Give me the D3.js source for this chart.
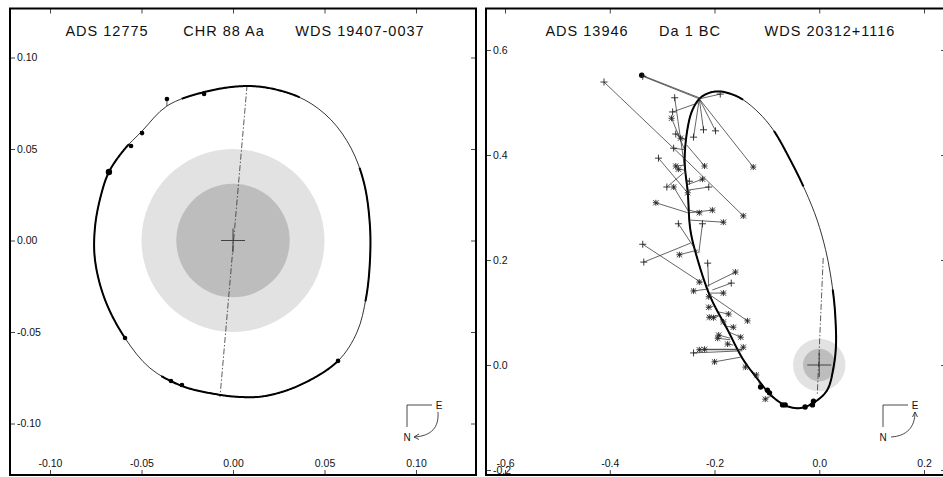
<!DOCTYPE html>
<html><head><meta charset="utf-8">
<script src="https://cdn.jsdelivr.net/npm/d3@7"></script>
<style>
body{margin:0;background:#fff}
svg{display:block}
text{font-family:"Liberation Sans",Arial,Helvetica,sans-serif;fill:#111}
</style>
</head><body>
<svg id="c" width="943" height="477"></svg>
<script>
// ================= Panel A : ADS 12775 =================
const titleA = ["ADS 12775", "CHR 88 Aa", "WDS 19407-0037"];
const ticksA = [-0.10, -0.05, 0.00, 0.05, 0.10];
const tickLabelsA = ["-0.10", "-0.05", "0.00", "0.05", "0.10"];
const orbitAX = [0.0066, 0.0230, 0.0393, 0.0535, 0.0645, 0.0716, 0.0748, 0.0748, 0.0727, 0.0678, 0.0574, 0.0366, 0.0175, 0.0038, -0.0098, -0.0279, -0.0454, -0.0590, -0.0699, -0.0754, -0.0754, -0.0721, -0.0678, -0.0596, -0.0497, -0.0361, -0.0158];
const orbitAY = [0.0844, 0.0826, 0.0768, 0.0660, 0.0505, 0.0314, 0.0085, -0.0117, -0.0314, -0.0500, -0.0658, -0.0790, -0.0850, -0.0855, -0.0839, -0.0795, -0.0697, -0.0533, -0.0325, -0.0107, 0.0074, 0.0249, 0.0374, 0.0495, 0.0598, 0.0735, 0.0811];
const obsAX  = [-0.0361, -0.0158, -0.0497, -0.0557, -0.0678, -0.0590, -0.0339, -0.0279, 0.0574];
const obsAY  = [0.0773, 0.0801, 0.0587, 0.0516, 0.0374, -0.0533, -0.0768, -0.0790, -0.0658];
const calcAX = [-0.0361, -0.0153, -0.0508, -0.0580, -0.0678, -0.0590, -0.0344, -0.0279, 0.0574];
const calcAY = [0.0735, 0.0811, 0.0598, 0.0520, 0.0374, -0.0533, -0.0760, -0.0790, -0.0658];
const obsAType = ["dot", "dot", "dot", "dot", "big", "dot", "dot", "dot", "dot"];
const nodeAX = [0.0077, -0.0071];
const nodeAY = [0.0850, -0.0855];
const haloA = [0.05, 0.031];

// ================= Panel B : ADS 13946 =================
const titleB = ["ADS 13946", "Da 1 BC", "WDS 20312+1116"];
const ticksB = [-0.6, -0.4, -0.2, 0.0, 0.2];
const tickLabelsB = ["-0.6", "-0.4", "-0.2", "0.0", "0.2"];
const yTicksB = [-0.2, 0.0, 0.2, 0.4, 0.6];
const yTickLabelsB = ["-0.2", "0.0", "0.2", "0.4", "0.6"];
const orbitBX = [-0.242, -0.227, -0.208, -0.189, -0.165, -0.145, -0.115, -0.088, -0.055, -0.027, -0.004, 0.012, 0.021, 0.028, 0.031, 0.032, 0.028, 0.015, -0.011, -0.036, -0.060, -0.074, -0.095, -0.112, -0.145, -0.175, -0.208, -0.232, -0.246, -0.251, -0.257, -0.251];
const orbitBY = [0.486, 0.509, 0.519, 0.521, 0.515, 0.505, 0.480, 0.448, 0.390, 0.333, 0.276, 0.220, 0.175, 0.125, 0.086, 0.040, 0.000, -0.048, -0.072, -0.082, -0.079, -0.072, -0.055, -0.034, 0.010, 0.067, 0.130, 0.200, 0.257, 0.328, 0.390, 0.453];
const obsBType = ["plus","dot","plus","plus","plus","plus","star","plus","plus","star","plus","plus","star","plus","plus","star","star","star","plus","star","plus","star","plus","star","star","star","star","star","plus","plus","plus","plus","star","plus","star","plus","star","star","star","star","star","star","star","star","star","star","star","star","star","star","star","star","plus","star","star","star","star","star","dot","dot","dot","star","dot","dot","dot","dot","dot","star"];
const obsBX  = [-0.411, -0.339, -0.337, -0.189, -0.276, -0.280, -0.282, -0.221, -0.198, -0.126, -0.240, -0.274, -0.265, -0.278, -0.307, -0.274, -0.269, -0.219, -0.248, -0.223, -0.291, -0.278, -0.211, -0.251, -0.312, -0.204, -0.183, -0.229, -0.269, -0.223, -0.337, -0.335, -0.267, -0.213, -0.160, -0.168, -0.229, -0.240, -0.183, -0.211, -0.137, -0.211, -0.210, -0.202, -0.183, -0.173, -0.164, -0.150, -0.192, -0.194, -0.175, -0.145, -0.240, -0.229, -0.219, -0.200, -0.141, -0.120, -0.112, -0.099, -0.095, -0.103, -0.070, -0.065, -0.027, -0.013, -0.011, -0.145];
const obsBY  = [0.539, 0.552, 0.550, 0.516, 0.509, 0.482, 0.470, 0.448, 0.446, 0.377, 0.434, 0.440, 0.432, 0.413, 0.394, 0.379, 0.373, 0.379, 0.350, 0.354, 0.339, 0.339, 0.339, 0.328, 0.309, 0.295, 0.272, 0.290, 0.269, 0.269, 0.230, 0.196, 0.210, 0.194, 0.177, 0.156, 0.158, 0.141, 0.137, 0.130, 0.084, 0.110, 0.091, 0.090, 0.082, 0.097, 0.072, 0.053, 0.057, 0.051, 0.040, 0.034, 0.023, 0.029, 0.030, 0.006, -0.004, -0.019, -0.042, -0.048, -0.053, -0.065, -0.076, -0.076, -0.080, -0.076, -0.069, 0.284];
const calcBX = [-0.253, -0.229, -0.229, -0.229, -0.255, -0.232, -0.257, -0.229, -0.229, -0.229, -0.229, -0.255, -0.253, -0.257, -0.253, -0.255, -0.255, -0.253, -0.255, -0.253, -0.259, -0.248, -0.251, -0.253, -0.251, -0.248, -0.246, -0.248, -0.232, -0.230, -0.227, -0.246, -0.232, -0.211, -0.217, -0.204, -0.223, -0.211, -0.211, -0.208, -0.208, -0.202, -0.192, -0.192, -0.189, -0.192, -0.181, -0.173, -0.170, -0.170, -0.164, -0.147, -0.147, -0.147, -0.147, -0.150, -0.139, -0.126, -0.116, -0.105, -0.101, -0.088, -0.074, -0.065, -0.027, -0.013, -0.010, -0.253];
const calcBY = [0.389, 0.509, 0.507, 0.507, 0.362, 0.499, 0.410, 0.507, 0.507, 0.507, 0.507, 0.429, 0.429, 0.410, 0.330, 0.381, 0.371, 0.419, 0.352, 0.343, 0.366, 0.290, 0.333, 0.324, 0.290, 0.290, 0.276, 0.295, 0.213, 0.213, 0.158, 0.232, 0.219, 0.149, 0.149, 0.143, 0.158, 0.145, 0.137, 0.130, 0.133, 0.112, 0.095, 0.093, 0.086, 0.101, 0.074, 0.063, 0.051, 0.048, 0.038, 0.030, 0.027, 0.029, 0.030, 0.015, 0.002, -0.015, -0.030, -0.044, -0.048, -0.057, -0.072, -0.076, -0.082, -0.074, -0.070, 0.389];
const nodeBX = [0.0076, -0.0038];
const nodeBY = [0.204, -0.057];
const haloB = [0.05, 0.031];

// ================= drawing =================
const svg = d3.select("#c");

function drawPanel(p) {
  const g = svg.append("g");
  const x = d3.scaleLinear().domain(p.xDomain).range(p.xRange);
  const y = d3.scaleLinear().domain(p.yDomain).range(p.yRange);
  const rpx = v => Math.abs(x(v) - x(0));

  g.append("clipPath").attr("id", p.id + "clip").append("rect")
    .attr("x", p.frame[0]).attr("y", p.frame[1])
    .attr("width", p.frame[2] - p.frame[0]).attr("height", p.frame[3] - p.frame[1]);
  const inner = g.append("g").attr("clip-path", `url(#${p.id}clip)`);

  inner.append("circle").attr("cx", x(0)).attr("cy", y(0)).attr("r", rpx(p.halo[0])).attr("fill", "#e2e2e2");
  inner.append("circle").attr("cx", x(0)).attr("cy", y(0)).attr("r", rpx(p.halo[1])).attr("fill", "#bdbdbd");
  inner.append("path")
    .attr("d", `M${x(0) - 12},${y(0)}H${x(0) + 12}M${x(0)},${y(0) - 12}V${y(0) + 12}`)
    .attr("stroke", "#333").attr("stroke-width", 0.9);

  inner.append("line")
    .attr("x1", x(p.nodeX[0])).attr("y1", y(p.nodeY[0]))
    .attr("x2", x(p.nodeX[1])).attr("y2", y(p.nodeY[1]))
    .attr("stroke", "#333").attr("stroke-width", 0.8)
    .attr("stroke-dasharray", "6,2,1.5,2");

  const pts = p.orbitX.map((v, i) => [x(v), y(p.orbitY[i])]);
  const line = d3.line().curve(d3.curveCatmullRomClosed.alpha(0.5));
  const orbit = inner.append("path").attr("d", line(pts))
    .attr("fill", "none").attr("stroke", "#000").attr("stroke-width", 0.8);
  const node = orbit.node();
  const L = node.getTotalLength();
  const cx0 = x(0), cy0 = y(0);
  const segs = []; let seg = [];
  const N = 800;
  for (let k = 0; k <= N; k++) {
    const q = node.getPointAtLength(L * k / N);
    let a = Math.atan2(cy0 - q.y, q.x - cx0) * 180 / Math.PI;
    if (a < 0) a += 360;
    const inR = p.thick.some(([a0, a1]) => a0 <= a1 ? (a >= a0 && a <= a1) : (a >= a0 || a <= a1));
    if (inR) seg.push([q.x, q.y]);
    else if (seg.length) { segs.push(seg); seg = []; }
  }
  if (seg.length) segs.push(seg);
  segs.forEach(s => inner.append("path").attr("d", d3.line()(s))
    .attr("fill", "none").attr("stroke", "#000").attr("stroke-width", 2));

  inner.selectAll(null).data(p.obsX).enter().append("line")
    .attr("x1", (d, i) => x(d)).attr("y1", (d, i) => y(p.obsY[i]))
    .attr("x2", (d, i) => x(p.calcX[i])).attr("y2", (d, i) => y(p.calcY[i]))
    .attr("stroke", "#222").attr("stroke-width", p.ocWidth);

  p.obsX.forEach((d, i) => {
    const t = p.obsType[i], px = x(d), py = y(p.obsY[i]);
    if (t === "dot" || t === "big") {
      inner.append("circle").attr("cx", px).attr("cy", py)
        .attr("r", t === "big" ? p.bigR : p.dotR).attr("fill", "#000");
    } else if (t === "plus") {
      inner.append("path").attr("d", `M${px - 3.5},${py}H${px + 3.5}M${px},${py - 3.5}V${py + 3.5}`)
        .attr("stroke", "#222").attr("stroke-width", 0.9);
    } else {
      const s = 2.6;
      inner.append("path").attr("d",
        `M${px - 3},${py}H${px + 3}M${px},${py - 3}V${py + 3}M${px - s},${py - s}L${px + s},${py + s}M${px - s},${py + s}L${px + s},${py - s}`)
        .attr("stroke", "#222").attr("stroke-width", 0.9);
    }
  });

  const fx = (arr) => (d, i) => arr[i];
  const axT = g.append("g").attr("transform", `translate(0,${p.frame[1]})`)
    .call(d3.axisBottom(x).tickValues(p.xTicks).tickSize(5).tickFormat(""));
  const axB = g.append("g").attr("transform", `translate(0,${p.frame[3]})`)
    .call(d3.axisTop(x).tickValues(p.xTicks).tickSize(5).tickPadding(3).tickFormat(fx(p.xLabels)));
  const axL = g.append("g").attr("transform", `translate(${p.frame[0]},0)`)
    .call(d3.axisRight(y).tickValues(p.yTicks).tickSize(5).tickPadding(2).tickFormat(fx(p.yLabels)));
  const axR = g.append("g").attr("transform", `translate(${p.frame[2]},0)`)
    .call(d3.axisLeft(y).tickValues(p.yTicks).tickSize(5).tickFormat(""));
  [axT, axB, axL, axR].forEach(a => {
    a.select(".domain").remove();
    a.selectAll("line").attr("stroke", "#333").attr("stroke-width", 0.9);
    a.selectAll("text").attr("font-size", 10.5).attr("fill", "#222")
      .attr("font-family", '"Liberation Sans",Arial,sans-serif');
  });

  g.append("rect").attr("x", p.frame[0]).attr("y", p.frame[1])
    .attr("width", p.frame[2] - p.frame[0]).attr("height", p.frame[3] - p.frame[1])
    .attr("fill", "none").attr("stroke", "#000").attr("stroke-width", 2);

  p.title.forEach((t, i) => g.append("text").attr("x", p.titleX[i]).attr("y", 36)
    .attr("text-anchor", "middle").attr("font-size", 14.5).attr("letter-spacing", 1).text(t));

  const c = p.compass;
  g.append("path").attr("d", `M${c[0] + 25},${c[1]}H${c[0]}V${c[1] + 22}`)
    .attr("fill", "none").attr("stroke", "#333").attr("stroke-width", 0.9);
  g.append("text").attr("x", c[0] + 32).attr("y", c[1] + 3.5).attr("text-anchor", "middle").attr("font-size", 10).text("E");
  g.append("text").attr("x", c[0]).attr("y", c[1] + 35.5).attr("text-anchor", "middle").attr("font-size", 10).text("N");
  if (p.motion === "toN") {
    g.append("path").attr("d", `M${c[0] + 31},${c[1] + 7}C${c[0] + 32},${c[1] + 22} ${c[0] + 25},${c[1] + 31} ${c[0] + 7},${c[1] + 32}`)
      .attr("fill", "none").attr("stroke", "#333").attr("stroke-width", 0.9);
    g.append("path").attr("d", `M${c[0] + 12},${c[1] + 29}L${c[0] + 7},${c[1] + 32}L${c[0] + 12},${c[1] + 34.5}`)
      .attr("fill", "none").attr("stroke", "#333").attr("stroke-width", 0.9);
  } else {
    g.append("path").attr("d", `M${c[0] + 8},${c[1] + 32}C${c[0] + 24},${c[1] + 31} ${c[0] + 32},${c[1] + 22} ${c[0] + 32},${c[1] + 7}`)
      .attr("fill", "none").attr("stroke", "#333").attr("stroke-width", 0.9);
    g.append("path").attr("d", `M${c[0] + 29.5},${c[1] + 12}L${c[0] + 32},${c[1] + 7}L${c[0] + 34.5},${c[1] + 12}`)
      .attr("fill", "none").attr("stroke", "#333").attr("stroke-width", 0.9);
  }
}

drawPanel({
  id: "A", frame: [10, 8.5, 476, 475],
  xDomain: [-0.10, 0.10], xRange: [50, 416],
  yDomain: [-0.10, 0.10], yRange: [423.5, 57.5],
  xTicks: ticksA, xLabels: tickLabelsA, yTicks: ticksA, yLabels: tickLabelsA,
  orbitX: orbitAX, orbitY: orbitAY, obsX: obsAX, obsY: obsAY, calcX: calcAX, calcY: calcAY, obsType: obsAType,
  nodeX: nodeAX, nodeY: nodeAY, halo: haloA,
  thick: [[65, 110], [137, 222], [242, 311], [335, 30]],
  dotR: 2.3, bigR: 3.2, ocWidth: 0.8,
  title: titleA, titleX: [107, 224, 360],
  compass: [407, 405], motion: "toN"
});

drawPanel({
  id: "B", frame: [486, 8.5, 946, 475],
  xDomain: [-0.6, 0.2], xRange: [505, 924],
  yDomain: [-0.2, 0.6], yRange: [470, 50],
  xTicks: ticksB, xLabels: tickLabelsB, yTicks: yTicksB, yLabels: yTickLabelsB,
  orbitX: orbitBX, orbitY: orbitBY, obsX: obsBX, obsY: obsBY, calcX: calcBX, calcY: calcBY, obsType: obsBType,
  nodeX: nodeBX, nodeY: nodeBY, halo: haloB,
  thick: [[106, 300], [300, 360], [0, 80], [95, 101]],
  dotR: 2.7, bigR: 3.2, ocWidth: 0.7,
  title: titleB, titleX: [587, 690, 830],
  compass: [883, 405], motion: "toE"
});
</script>
</body></html>
